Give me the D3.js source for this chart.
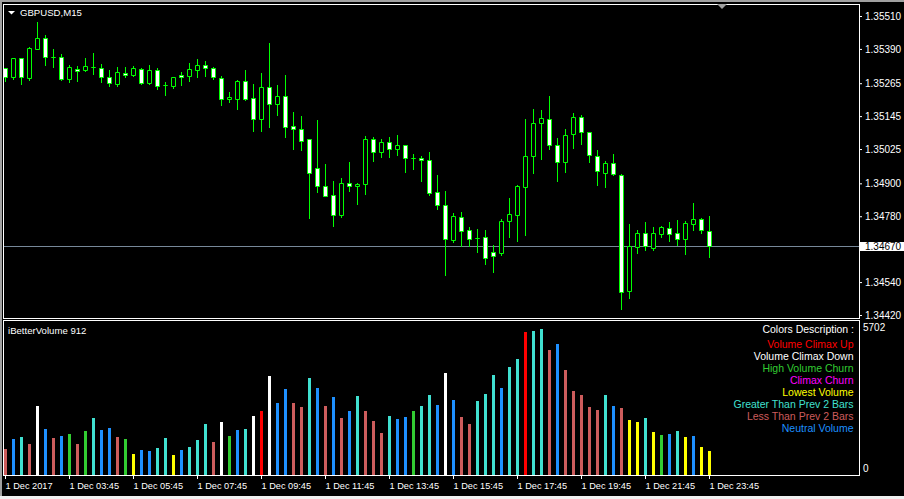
<!DOCTYPE html>
<html><head><meta charset="utf-8">
<script src="https://cdn.jsdelivr.net/npm/d3@7"></script>
<style>
html,body{margin:0;padding:0;background:#000;overflow:hidden}
svg{display:block}
text{font-family:"Liberation Sans",Arial,sans-serif}
</style></head><body>
<svg id="c" width="904" height="499"></svg>
<script>
// ---------------- DATA ----------------
const symbolTitle = "GBPUSD,M15";
const indicatorTitle = "iBetterVolume 912";

const open = [1.35319,1.35287,1.35356,1.35283,1.35391,1.35429,1.35360,1.35359,1.35281,1.35318,
1.35314,1.35323,1.35319,1.35287,1.35263,1.35302,1.35296,1.35316,1.35267,1.35312,
1.35257,1.35256,1.35294,1.35292,1.35314,1.35330,1.35319,1.35283,1.35206,1.35209,
1.35273,1.35210,1.35133,1.35250,1.35188,1.35217,1.35108,1.35097,1.35062,1.34955,
1.34889,1.34856,1.34786,1.34900,1.34889,1.34896,1.35062,1.35013,1.35050,1.35024,
1.35039,1.34992,1.34991,1.34984,1.34867,1.34820,1.34695,1.34777,1.34729,1.34701,
1.34703,1.34649,1.34647,1.34762,1.34783,1.34885,1.34998,1.35119,1.35133,1.35039,
1.34977,1.35079,1.35141,1.35086,1.34998,1.34939,1.34973,1.34929,1.34506,1.34669,
1.34718,1.34665,1.34717,1.34738,1.34718,1.34698,1.34753,1.34769,1.34725];

const high = [1.35320,1.35356,1.35356,1.35397,1.35488,1.35441,1.35390,1.35371,1.35331,1.35329,
1.35357,1.35376,1.35334,1.35312,1.35324,1.35324,1.35328,1.35322,1.35331,1.35322,
1.35268,1.35288,1.35306,1.35339,1.35353,1.35346,1.35323,1.35290,1.35232,1.35277,
1.35313,1.35262,1.35302,1.35413,1.35258,1.35295,1.35159,1.35145,1.35063,1.35131,
1.34970,1.34908,1.34919,1.34978,1.34902,1.35074,1.35069,1.35062,1.35068,1.35076,
1.35040,1.35007,1.35000,1.35014,1.34930,1.34872,1.34792,1.34795,1.34741,1.34734,
1.34730,1.34675,1.34770,1.34846,1.34894,1.35134,1.35171,1.35167,1.35218,1.35065,
1.35098,1.35156,1.35149,1.35088,1.35021,1.34981,1.35007,1.34933,1.34752,1.34729,
1.34759,1.34740,1.34744,1.34759,1.34766,1.34763,1.34828,1.34774,1.34781];

const low = [1.35274,1.35280,1.35261,1.35277,1.35389,1.35332,1.35325,1.35277,1.35270,1.35274,
1.35308,1.35299,1.35270,1.35256,1.35256,1.35289,1.35292,1.35261,1.35261,1.35245,
1.35223,1.35249,1.35260,1.35274,1.35289,1.35292,1.35279,1.35185,1.35198,1.35172,
1.35204,1.35092,1.35092,1.35106,1.35150,1.35070,1.35026,1.35021,1.34775,1.34870,
1.34854,1.34745,1.34776,1.34873,1.34826,1.34861,1.34982,1.34997,1.34995,1.35004,
1.34942,1.34952,1.34910,1.34859,1.34807,1.34567,1.34687,1.34671,1.34671,1.34651,
1.34607,1.34578,1.34640,1.34705,1.34691,1.34713,1.34939,1.34988,1.35026,1.34910,
1.34942,1.35030,1.35045,1.34979,1.34895,1.34888,1.34929,1.34443,1.34483,1.34647,
1.34658,1.34658,1.34706,1.34691,1.34676,1.34644,1.34730,1.34720,1.34632];

const close = [1.35287,1.35356,1.35287,1.35392,1.35429,1.35362,1.35359,1.35281,1.35323,1.35311,
1.35327,1.35324,1.35287,1.35265,1.35305,1.35296,1.35319,1.35267,1.35313,1.35256,
1.35258,1.35287,1.35287,1.35316,1.35330,1.35319,1.35287,1.35206,1.35214,1.35273,
1.35209,1.35133,1.35250,1.35188,1.35217,1.35106,1.35097,1.35055,1.34936,1.34891,
1.34855,1.34786,1.34900,1.34889,1.34898,1.35062,1.35013,1.35050,1.35024,1.35040,
1.34991,1.34993,1.34984,1.34864,1.34820,1.34698,1.34781,1.34727,1.34698,1.34700,
1.34627,1.34634,1.34762,1.34787,1.34890,1.34998,1.35120,1.35137,1.35039,1.34977,
1.35075,1.35141,1.35086,1.35002,1.34944,1.34973,1.34933,1.34503,1.34670,1.34718,
1.34670,1.34718,1.34740,1.34716,1.34698,1.34754,1.34770,1.34729,1.34670];

const volume = [1030,1406,1484,1211,2694,1796,1445,1523,1601,1205,
1718,2226,1757,1835,1470,1400,820,976,937,1054,
1445,781,976,1093,1367,1992,1289,2070,1523,1757,
1796,2304,2499,3866,2812,3358,2800,2655,3788,3397,
2694,3046,2226,2499,3085,2490,2109,1640,2304,2187,
2265,2499,2694,3124,2733,3983,2929,2265,1992,2890,
3163,3905,3397,4217,4530,5584,5623,5702,4881,5116,
4100,3280,3124,2655,2550,3124,2694,2616,2148,2070,
2226,1679,1562,1601,1718,1484,1523,1093,937];

// volume class of each bar
const volClass = ["I","B","T","I","W","B","I","B","G","I",
"G","T","B","B","I","G","Y","B","B","T",
"T","Y","B","T","T","T","I","W","G","B",
"T","W","R","W","B","B","I","I","T","B",
"I","B","I","B","T","I","I","I","T","B",
"B","G","T","T","B","W","B","I","I","T",
"T","T","B","T","T","R","T","T","I","B",
"I","I","I","I","I","T","B","I","Y","Y",
"T","Y","G","B","T","Y","B","Y","Y"];

const legendKeys   = ["R","W","G","M","Y","T","I","B"];
const legendLabels = ["Volume Climax Up","Volume Climax Down","High Volume Churn","Climax Churn",
                      "Lowest Volume","Greater Than Prev 2 Bars","Less Than Prev 2 Bars","Neutral Volume"];
const legendTitle = "Colors Description :";

const priceTicks = [1.35510,1.35390,1.35265,1.35145,1.35025,1.34900,1.34780,1.34540,1.34420];
const currentPrice = 1.34670;
const volMax = 5702;
const timeLabels = ["1 Dec 2017","1 Dec 03:45","1 Dec 05:45","1 Dec 07:45","1 Dec 09:45","1 Dec 11:45",
                    "1 Dec 13:45","1 Dec 15:45","1 Dec 17:45","1 Dec 19:45","1 Dec 21:45","1 Dec 23:45"];

// ---------------- STYLE ----------------
const volColors = {R:"#ff0000",W:"#ffffff",G:"#32cd32",M:"#ff00ff",Y:"#ffff00",T:"#40e0d0",I:"#cd5c5c",B:"#1e90ff"};
const candleColor = "#00ff00";

// ---------------- DRAW ----------------
const W = 904, H = 499;
const svg = d3.select("#c");
svg.append("rect").attr("width", W).attr("height", H).attr("fill", "#000");
svg.append("rect").attr("x",0).attr("y",0).attr("width",W).attr("height",2).attr("fill","#a0a0a0");
svg.append("rect").attr("x",0).attr("y",0).attr("width",2).attr("height",H).attr("fill","#a0a0a0");
svg.append("rect").attr("x",0).attr("y",496).attr("width",W).attr("height",3).attr("fill","#f0f0f0");

const n = open.length;
const x = d3.scaleLinear().domain([0, n - 1]).range([5, 5 + 8 * (n - 1)]);
const y = d3.scaleLinear().domain([1.34420, 1.35510]).range([315, 16]);
const vy = d3.scaleLinear().domain([0, volMax]).range([475, 329]);

const defs = svg.append("defs");
defs.append("clipPath").attr("id","clipMain").append("rect").attr("x",4).attr("y",5).attr("width",855).attr("height",313);
defs.append("clipPath").attr("id","clipVol").append("rect").attr("x",4).attr("y",321).attr("width",855).attr("height",154);

// current price line
const cpY = Math.round(y(currentPrice)) + 0.5;
svg.append("line").attr("x1",4).attr("x2",859).attr("y1",cpY).attr("y2",cpY)
  .attr("stroke","#778899").attr("stroke-width",1);

// candles
const cg = svg.append("g").attr("clip-path","url(#clipMain)");
const idx = d3.range(n);
cg.selectAll("line.wick").data(idx).join("line").attr("class","wick")
  .attr("x1", i => x(i) + 0.5).attr("x2", i => x(i) + 0.5)
  .attr("y1", i => Math.round(y(high[i]))).attr("y2", i => Math.round(y(low[i])) + 1)
  .attr("stroke", candleColor).attr("stroke-width", 1);
cg.selectAll("path.body").data(idx).join("path").attr("class","body")
  .attr("d", i => {
    const t = Math.round(y(Math.max(open[i], close[i])));
    const b = Math.round(y(Math.min(open[i], close[i])));
    const x0 = x(i) - 1.5;
    return `M${x0},${t + 0.5}h4v${b - t}h-4Z`;
  })
  .attr("fill", i => close[i] < open[i] ? "#ffffff" : "#000000")
  .attr("stroke", candleColor).attr("stroke-width", 1);

// panel frames
svg.append("rect").attr("x",3.5).attr("y",4.5).attr("width",856).attr("height",314)
  .attr("fill","none").attr("stroke","#fff");
svg.append("rect").attr("x",3.5).attr("y",320.5).attr("width",856).attr("height",155)
  .attr("fill","none").attr("stroke","#fff");

// volume bars
const vg = svg.append("g").attr("clip-path","url(#clipVol)");
vg.selectAll("rect").data(idx).join("rect")
  .attr("x", i => x(i) - 1).attr("width", 3)
  .attr("y", i => Math.round(vy(volume[i]))).attr("height", i => 475 - Math.round(vy(volume[i])))
  .attr("fill", i => volColors[volClass[i]]);

// price axis
const pa = svg.append("g").attr("transform","translate(859,0)")
  .call(d3.axisRight(y).tickValues(priceTicks).tickSize(3).tickPadding(3).tickFormat(d3.format(".5f")));
pa.select(".domain").remove();
pa.selectAll(".tick line").attr("stroke","#fff");
pa.selectAll(".tick text").attr("fill","#fff").style("font-size","10px").style("font-family","'Liberation Sans',Arial,sans-serif");

// current price marker
svg.append("rect").attr("x",860).attr("y",cpY - 4.5).attr("width",44).attr("height",9).attr("fill","#fff");
svg.append("text").attr("x",865).attr("y",cpY).attr("dy","0.35em").attr("fill","#000")
  .style("font-size","10px").text(d3.format(".5f")(currentPrice));

// volume axis labels
svg.append("text").attr("x",863).attr("y",vy(volMax) + 2).attr("fill","#fff").style("font-size","10px").text(volMax);
svg.append("text").attr("x",863).attr("y",vy(0) - 3).attr("fill","#fff").style("font-size","10px").text(0);

// time axis
const tickIdx = d3.range(0, n, 8);
const ta = svg.append("g").attr("transform","translate(0,476)")
  .call(d3.axisBottom(x).tickValues(tickIdx).tickSize(3).tickFormat((d, k) => timeLabels[k]));
ta.select(".domain").remove();
ta.selectAll(".tick line").attr("stroke","#fff");
ta.selectAll(".tick text").attr("fill","#fff").attr("text-anchor","start")
  .attr("x", 0).attr("y", 12.5).attr("dy", null)
  .style("font-size","9.2px").style("font-family","'Liberation Sans',Arial,sans-serif");

// titles
svg.append("path").attr("d","M8,11L15,11L11.5,14.5Z").attr("fill","#fff");
svg.append("text").attr("x",20).attr("y",16).attr("fill","#fff").style("font-size","9.6px").text(symbolTitle);
svg.append("path").attr("d","M717,4L727,4L722,9Z").attr("fill","#a0a0a0");
svg.append("text").attr("x",8).attr("y",333.5).attr("fill","#fff").style("font-size","9.6px").text(indicatorTitle);

// legend
svg.append("text").attr("x",854).attr("y",333).attr("text-anchor","end").attr("fill","#fff")
  .style("font-size","10.5px").text(legendTitle);
svg.selectAll("text.leg").data(legendKeys).join("text").attr("class","leg")
  .attr("x",853.5).attr("y",(d,k) => 347.5 + 12 * k).attr("text-anchor","end")
  .attr("fill", d => volColors[d]).style("font-size","10.5px")
  .text((d,k) => legendLabels[k]);
</script>
</body></html>
